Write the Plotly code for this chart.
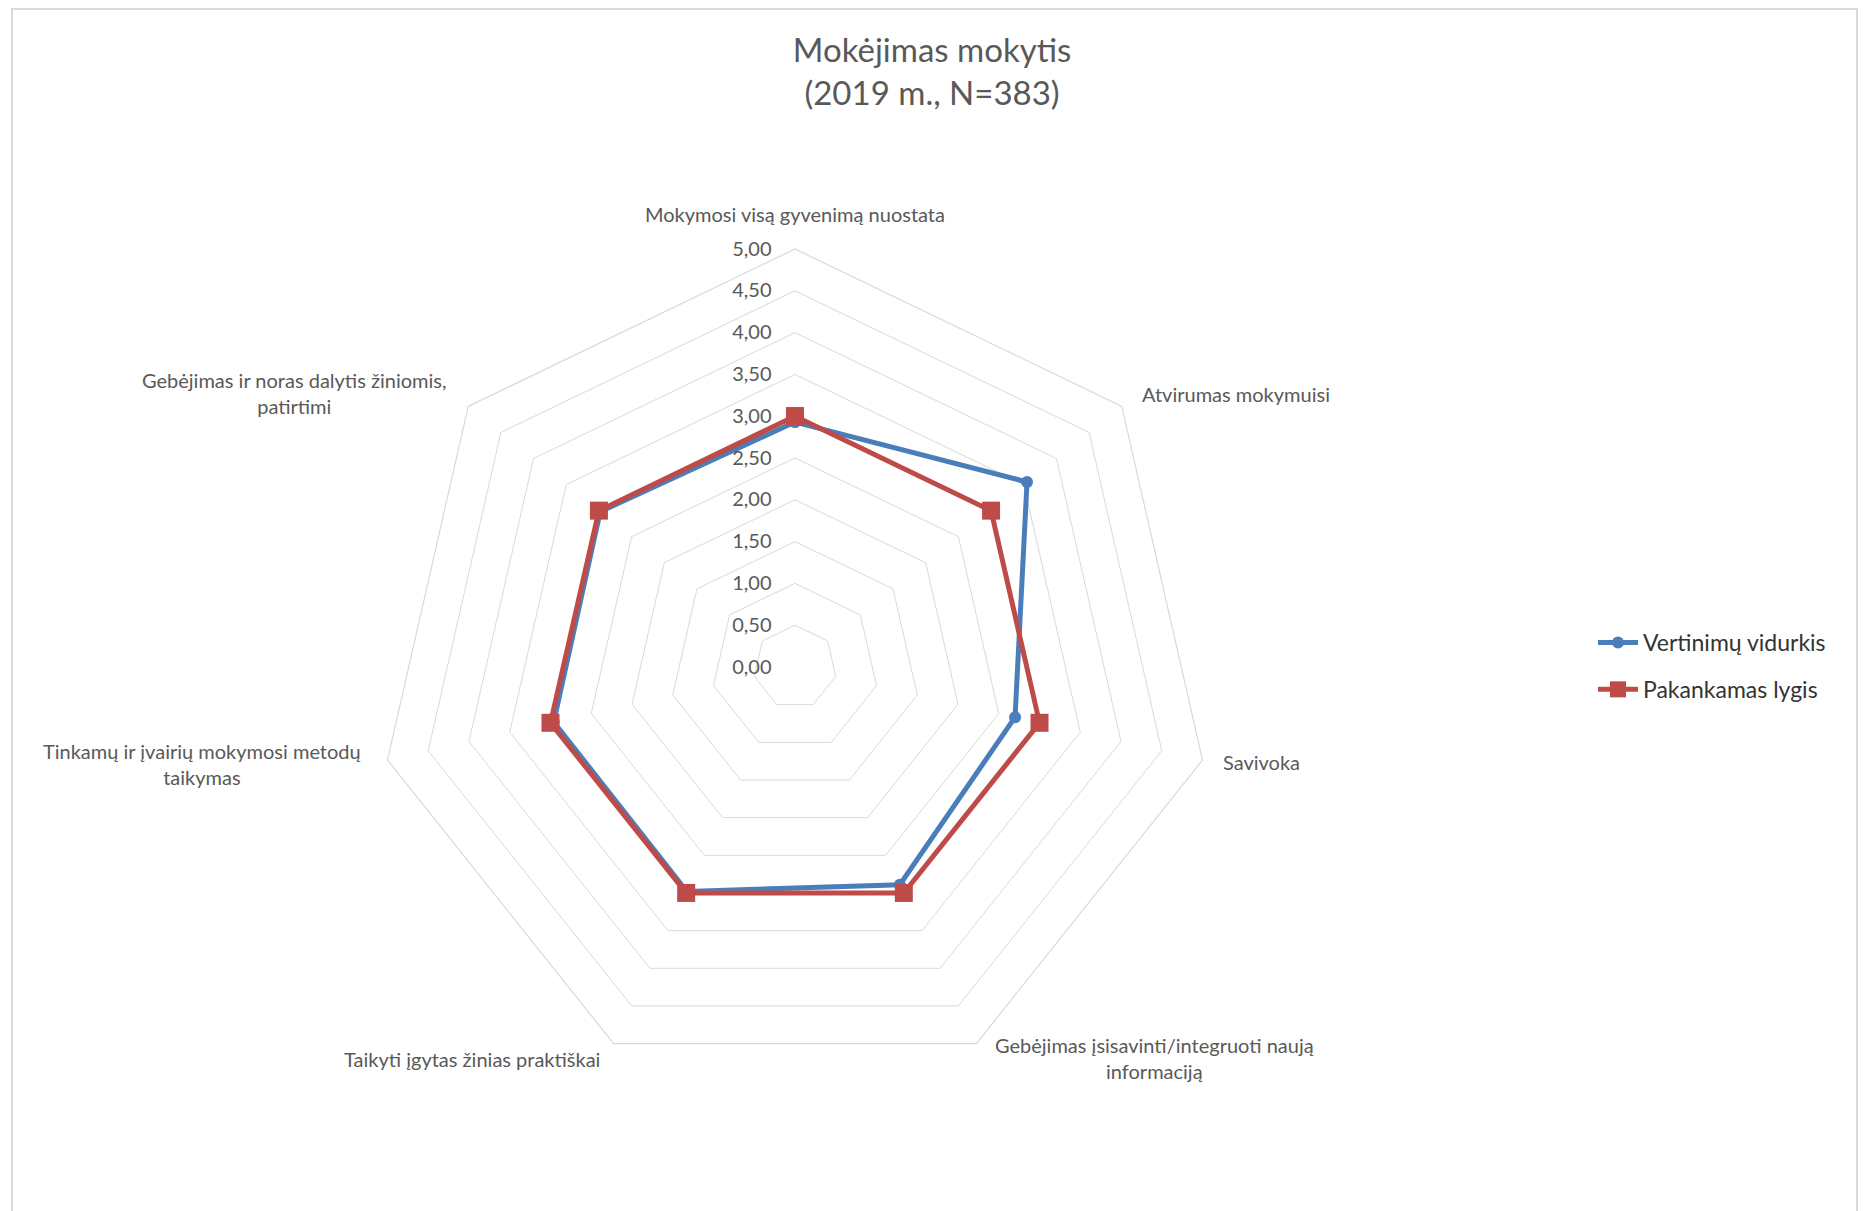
import plotly.graph_objects as go

categories = [
    "Mokymosi visą gyvenimą nuostata",
    "Atvirumas mokymuisi",
    "Savivoka",
    "Gebėjimas įsisavinti/integruoti naują<br>informaciją",
    "Taikyti įgytas žinias praktiškai",
    "Tinkamų ir įvairių mokymosi metodų<br>taikymas",
    "Gebėjimas ir noras dalytis žiniomis,<br>patirtimi",
]
vertinimu_vidurkis = [2.93, 3.55, 2.70, 2.89, 2.98, 2.96, 2.98]
pakankamas_lygis = [3.00, 3.00, 3.00, 3.00, 3.00, 3.00, 3.00]
series_names = ["Vertinimų vidurkis", "Pakankamas lygis"]
radial_ticks = [0, 0.5, 1, 1.5, 2, 2.5, 3, 3.5, 4, 4.5, 5]

# label placement (pixels in the 1866x1211 page) for category labels
label_pos = [(795, 214), (1236, 394), (1261, 762), (1154, 1058),
             (472, 1059), (202, 764), (294, 393)]

FONT = "Lato"
GREY = "#595959"

def closed(v):
    return list(v) + [v[0]]

fig = go.Figure()
fig.add_trace(go.Scatterpolar(
    r=closed(vertinimu_vidurkis), theta=closed(categories),
    name=series_names[0], mode="lines+markers", legendgroup="a",
    line=dict(color="#4A7EBB", width=5),
    marker=dict(symbol="circle", size=12, color="#4A7EBB"),
))
fig.add_trace(go.Scatterpolar(
    r=closed(pakankamas_lygis), theta=closed(categories),
    name=series_names[1], mode="lines+markers", legendgroup="b",
    line=dict(color="#BE4B48", width=5),
    marker=dict(symbol="square", size=18, color="#BE4B48"),
))

W, H = 1866, 1211
cx, cy, R = 795, 667, 418

annotations = []
for txt, (px, py) in zip(categories, label_pos):
    annotations.append(dict(
        text=txt, x=px / W, y=1 - py / H, xref="paper", yref="paper",
        xanchor="center", yanchor="middle", align="center", showarrow=False,
        font=dict(family=FONT, size=20, color=GREY),
    ))

fig.update_layout(
    width=W, height=H,
    margin=dict(l=0, r=0, t=0, b=0),
    paper_bgcolor="white", plot_bgcolor="white",
    separators=",.",
    font=dict(family=FONT, color=GREY),
    title=dict(
        text="Mokėjimas mokytis<br>(2019 m., N=383)",
        x=0.4995, xanchor="center", y=1 - 62 / H, yanchor="top",
        font=dict(family=FONT, size=33, color=GREY),
    ),
    polar=dict(
        domain=dict(x=[(cx - R) / W, (cx + R) / W],
                    y=[(H - cy - R) / H, (H - cy + R) / H]),
        bgcolor="white",
        gridshape="linear",
        radialaxis=dict(
            range=[0, 5], tickvals=radial_ticks, tickformat=".2f",
            angle=90, tickangle=90, side="counterclockwise", showline=False,
            ticks="outside", ticklen=16, tickcolor="rgba(0,0,0,0)",
            gridcolor="#D9D9D9", gridwidth=1.2,
            tickfont=dict(family=FONT, size=20, color=GREY),
        ),
        angularaxis=dict(
            direction="clockwise", rotation=90, showgrid=False,
            showline=True, linecolor="#D9D9D9", linewidth=1.2, ticks="",
            showticklabels=False,
        ),
    ),
    legend=dict(
        x=1593 / W, xanchor="left", y=1 - 666 / H, yanchor="middle",
        font=dict(family=FONT, size=23, color="#333333"),
        bgcolor="rgba(0,0,0,0)", itemwidth=40, tracegroupgap=14,
    ),
    annotations=annotations,
    shapes=[dict(type="rect", xref="paper", yref="paper",
                 x0=12 / W, x1=1857 / W, y0=-0.05, y1=1 - 9 / H,
                 line=dict(color="#D9D9D9", width=2), fillcolor="rgba(0,0,0,0)",
                 layer="below")],
)

fig.write_html("out.html", config={"displayModeBar": False},
               post_script="document.body.style.margin='0px';")
